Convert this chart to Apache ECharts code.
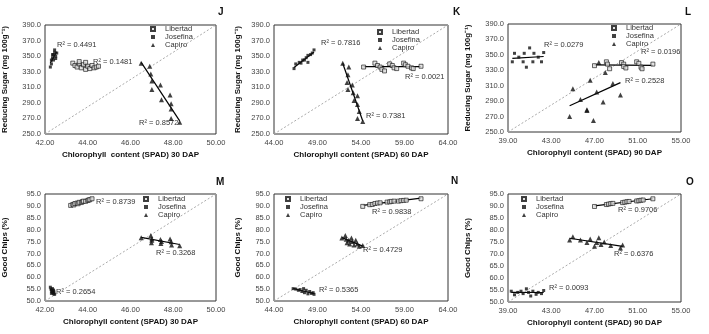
<!DOCTYPE html>
<html><head><meta charset="utf-8">
<script src="https://cdn.jsdelivr.net/npm/echarts@6/dist/echarts.min.js"></script>
<style>html,body{margin:0;padding:0;background:#fff}#c{width:709px;height:334px}</style>
</head><body><div id="c"></div>
<script>
// ---------- tick labels ----------
const xTicks30 = [42, 44, 46, 48, 50];
const xTicks60 = [44, 49, 54, 59, 64];
const xTicks90 = [39, 43, 47, 51, 55];
const ySugarTicks = [250, 270, 290, 310, 330, 350, 370, 390];
const yChipsTicks = [50, 55, 60, 65, 70, 75, 80, 85, 90, 95];
const seriesNames = ['Libertad', 'Josefina', 'Capiro'];
const panelLetters = ['J', 'K', 'L', 'M', 'N', 'O'];
const xNames = ['Chlorophyll  content (SPAD) 30 DAP', 'Chlorophyll content (SPAD) 60 DAP', 'Chlorophyll content (SPAD) 90 DAP',
                'Chlorophyll content (SPAD) 30 DAP', 'Chlorophyll content (SPAD) 60 DAP', 'Chlorophyll content (SPAD) 90 DAP'];
const yNames = ['Reducing Sugar (mg 100g\u207B\u00B9)', 'Good Chips (%)'];

// ---------- J: reducing sugar vs SPAD 30 DAP ----------
const J_lib_x = [43.3, 43.4, 43.5, 43.6, 43.6, 43.7, 43.8, 43.9, 43.9, 44.0, 44.1, 44.2, 44.3, 44.4, 44.5];
const J_lib_y = [341, 338, 336, 340, 343, 335, 339, 342, 333, 337, 334, 338, 335, 336, 337];
const J_jos_x = [42.25, 42.3, 42.3, 42.35, 42.35, 42.4, 42.4, 42.45, 42.45, 42.5, 42.5, 42.55];
const J_jos_y = [336, 340, 345, 348, 352, 345, 352, 355, 358, 350, 347, 354];
const J_cap_x = [46.5, 46.9, 46.95, 47.0, 47.0, 47.4, 47.45, 47.85, 47.9, 47.9, 47.9, 48.3];
const J_cap_y = [341, 337, 327, 318, 307, 313, 294, 300, 289, 282, 270, 265];
const J_r2 = ['0.1481', '0.4491', '0.8572'];

// ---------- K: reducing sugar vs SPAD 60 DAP ----------
const K_lib_x = [54.3, 55.6, 55.9, 56.2, 56.4, 56.7, 57.3, 57.6, 57.8, 58.1, 58.9, 59.1, 59.4, 59.8, 60.0, 60.9];
const K_lib_y = [336, 341, 338, 336, 333, 331, 340, 338, 335, 334, 341, 339, 337, 335, 334, 337];
const K_jos_x = [46.3, 46.5, 46.9, 47.1, 47.3, 47.5, 47.7, 47.9, 47.9, 48.2, 48.4, 48.6];
const K_jos_y = [334, 340, 342, 341, 345, 345, 348, 342, 351, 352, 354, 358];
const K_cap_x = [51.9, 52.6, 52.5, 52.4, 52.5, 53.0, 53.1, 53.2, 53.6, 53.6, 53.8, 53.6, 54.2];
const K_cap_y = [341, 336, 326, 316, 307, 313, 303, 293, 299, 288, 279, 270, 266];
const K_r2 = ['0.0021', '0.7816', '0.7381'];

// ---------- L: reducing sugar vs SPAD 90 DAP ----------
const L_lib_x = [47.0, 48.1, 48.2, 48.4, 49.5, 49.7, 49.7, 49.9, 50.9, 51.1, 51.3, 51.4, 52.4];
const L_lib_y = [336, 341, 338, 332, 340, 338, 335, 333, 341, 339, 334, 332, 338];
const L_jos_x = [39.4, 39.6, 40.0, 40.4, 40.5, 40.7, 41.0, 41.3, 41.4, 41.8, 42.1, 42.3];
const L_jos_y = [341, 352, 347, 341, 352, 334, 359, 341, 352, 347, 341, 353];
const L_cap_x = [44.7, 45.0, 45.7, 46.3, 46.3, 46.6, 46.9, 47.2, 47.4, 47.8, 48.0, 48.7, 49.4];
const L_cap_y = [270, 306, 292, 279, 278, 317, 265, 302, 340, 289, 327, 313, 298];
const L_r2 = ['0.0196', '0.0279', '0.2528'];

// ---------- M: good chips vs SPAD 30 DAP ----------
const M_lib_x = [43.2, 43.3, 43.35, 43.4, 43.5, 43.55, 43.6, 43.7, 43.75, 43.8, 43.9, 44.0, 44.05, 44.1, 44.2];
const M_lib_y = [90.2, 90.6, 90.4, 91.0, 91.2, 90.9, 91.5, 91.4, 91.8, 92.0, 91.9, 92.3, 92.5, 92.6, 93.0];
const M_jos_x = [42.25, 42.28, 42.3, 42.32, 42.35, 42.35, 42.38, 42.4, 42.42, 42.45, 42.3, 42.4];
const M_jos_y = [55.8, 55.0, 54.5, 54.0, 55.2, 53.5, 54.2, 53.0, 53.8, 52.8, 53.2, 54.6];
const M_cap_x = [46.5, 46.95, 47.0, 46.98, 47.0, 47.4, 47.42, 47.45, 47.85, 47.9, 47.92, 48.3];
const M_cap_y = [76.6, 77.5, 75.6, 74.5, 76.2, 75.9, 74.2, 75.0, 76.1, 74.9, 73.5, 73.2];
const M_r2 = ['0.8739', '0.2654', '0.3268'];

// ---------- N: good chips vs SPAD 60 DAP ----------
const N_lib_x = [54.2, 55.0, 55.3, 55.6, 55.9, 56.2, 57.0, 57.3, 57.5, 57.8, 58.3, 58.6, 58.9, 59.2, 60.9];
const N_lib_y = [89.8, 90.5, 90.6, 91.0, 91.2, 91.3, 91.6, 91.7, 91.9, 92.0, 92.0, 92.2, 92.3, 92.4, 93.0];
const N_jos_x = [46.2, 46.5, 46.8, 47.0, 47.2, 47.4, 47.5, 47.7, 47.9, 48.1, 48.3, 48.5, 48.6];
const N_jos_y = [55.2, 55.0, 54.5, 54.8, 54.0, 55.2, 53.5, 54.5, 53.0, 54.0, 53.2, 53.5, 52.8];
const N_cap_x = [51.8, 52.2, 52.3, 52.4, 52.6, 52.7, 52.9, 53.0, 53.2, 53.4, 53.6, 53.8, 54.2];
const N_cap_y = [76.5, 77.5, 76.0, 74.5, 75.5, 74.0, 76.5, 75.0, 73.5, 75.5, 74.0, 73.0, 73.3];
const N_r2 = ['0.9838', '0.5365', '0.4729'];

// ---------- O: good chips vs SPAD 90 DAP ----------
const O_lib_x = [47.0, 48.1, 48.3, 48.5, 48.7, 49.6, 49.8, 50.0, 50.2, 50.9, 51.1, 51.3, 51.5, 52.4];
const O_lib_y = [89.8, 90.6, 90.8, 91.0, 91.1, 91.4, 91.6, 91.8, 91.9, 92.1, 92.2, 92.4, 92.5, 93.0];
const O_jos_x = [39.3, 39.6, 39.9, 40.2, 40.4, 40.7, 40.9, 41.1, 41.3, 41.6, 41.8, 42.1, 42.3];
const O_jos_y = [54.5, 53.0, 54.0, 54.5, 53.5, 55.5, 54.0, 52.5, 54.5, 53.2, 54.0, 53.5, 54.8];
const O_cap_x = [44.7, 45.0, 45.7, 46.3, 46.6, 47.0, 47.2, 47.4, 47.6, 47.9, 48.5, 49.4, 49.6];
const O_cap_y = [75.8, 77.2, 75.8, 74.8, 76.3, 73.2, 74.8, 76.8, 74.0, 75.0, 73.5, 72.5, 73.8];
const O_r2 = ['0.9706', '0.0093', '0.6376'];

// ---------- layout (styles / positions) ----------
const FONT = 'Liberation Sans, Arial, sans-serif';
const grids = [
  {left: 44, top: 25, width: 172, height: 109},
  {left: 274, top: 25, width: 174, height: 109},
  {left: 508, top: 24, width: 173, height: 108},
  {left: 43, top: 194, width: 173, height: 107},
  {left: 274, top: 194, width: 174, height: 107},
  {left: 508, top: 194, width: 173, height: 108}
];
const yNameGaps = [36, 32, 36, 36, 32, 36];
const legendPos = [[150, 25], [377, 28], [611, 24], [143, 195], [285, 195], [521, 195]];
const letterPos = [[218, 7], [453, 7], [685, 7], [216, 177], [451, 176], [686, 177]];
// R² label pixel positions: order Libertad, Josefina, Capiro
const r2Pos = [
  [[93, 63], [57, 46], [139, 124]],
  [[405, 78], [321, 44], [366, 117]],
  [[641, 53], [544, 46], [625, 82]],
  [[96, 203], [56, 293], [156, 254]],
  [[372, 213], [319, 291], [363, 251]],
  [[618, 211], [549, 289], [614, 255]]
];

const panels = [
  {xt: xTicks30, yt: ySugarTicks, yn: 0, d: [[J_lib_x, J_lib_y], [J_jos_x, J_jos_y], [J_cap_x, J_cap_y]], r2: J_r2},
  {xt: xTicks60, yt: ySugarTicks, yn: 0, d: [[K_lib_x, K_lib_y], [K_jos_x, K_jos_y], [K_cap_x, K_cap_y]], r2: K_r2},
  {xt: xTicks90, yt: ySugarTicks, yn: 0, d: [[L_lib_x, L_lib_y], [L_jos_x, L_jos_y], [L_cap_x, L_cap_y]], r2: L_r2},
  {xt: xTicks30, yt: yChipsTicks, yn: 1, d: [[M_lib_x, M_lib_y], [M_jos_x, M_jos_y], [M_cap_x, M_cap_y]], r2: M_r2},
  {xt: xTicks60, yt: yChipsTicks, yn: 1, d: [[N_lib_x, N_lib_y], [N_jos_x, N_jos_y], [N_cap_x, N_cap_y]], r2: N_r2},
  {xt: xTicks90, yt: yChipsTicks, yn: 1, d: [[O_lib_x, O_lib_y], [O_jos_x, O_jos_y], [O_cap_x, O_cap_y]], r2: O_r2}
];

const symbolStyles = [
  {symbol: 'rect', symbolSize: 4, itemStyle: {color: '#ddd', borderColor: '#111', borderWidth: 0.8}},
  {symbol: 'rect', symbolSize: 3, itemStyle: {color: '#111'}},
  {symbol: 'triangle', symbolSize: 5, itemStyle: {color: '#111'}}
];

function fit(xs, ys) {
  const n = xs.length;
  let sx = 0, sy = 0, sxx = 0, sxy = 0;
  for (let i = 0; i < n; i++) { sx += xs[i]; sy += ys[i]; sxx += xs[i] * xs[i]; sxy += xs[i] * ys[i]; }
  const b = (n * sxy - sx * sy) / (n * sxx - sx * sx);
  const a = (sy - b * sx) / n;
  const x0 = Math.min(...xs), x1 = Math.max(...xs);
  return [[x0, a + b * x0], [x1, a + b * x1]];
}

const grid = [], xAxis = [], yAxis = [], series = [], legend = [], graphic = [];
panels.forEach((p, i) => {
  grid.push(Object.assign({show: true, borderColor: '#333', borderWidth: 1, backgroundColor: '#fff'}, grids[i]));
  const xmin = p.xt[0], xmax = p.xt[p.xt.length - 1];
  const ymin = p.yt[0], ymax = p.yt[p.yt.length - 1];
  xAxis.push({
    type: 'value', gridIndex: i, min: xmin, max: xmax,
    axisLine: {show: false}, axisTick: {show: false}, splitLine: {show: false},
    axisLabel: {customValues: p.xt, formatter: v => v.toFixed(2), fontSize: 7.5, color: '#444', fontFamily: FONT, margin: 5},
    name: xNames[i], nameLocation: 'middle', nameGap: 17,
    nameTextStyle: {fontSize: 8, fontWeight: 'bold', color: '#111', fontFamily: FONT}
  });
  yAxis.push({
    type: 'value', gridIndex: i, min: ymin, max: ymax,
    axisLine: {show: false}, axisTick: {show: false}, splitLine: {show: false},
    axisLabel: {customValues: p.yt, formatter: v => v.toFixed(1), fontSize: 7.5, color: '#444', fontFamily: FONT, margin: 4},
    name: yNames[p.yn], nameLocation: 'middle', nameGap: yNameGaps[i], nameRotate: 90,
    nameTextStyle: {fontSize: 8, fontWeight: 'bold', color: '#111', fontFamily: FONT}
  });
  // 1:1 style diagonal reference
  series.push({
    type: 'line', xAxisIndex: i, yAxisIndex: i, silent: true, symbol: 'none',
    data: [[xmin, ymin], [xmax, ymax]],
    lineStyle: {color: '#aaa', width: 1, type: [2, 2]}, z: 1
  });
  p.d.forEach((g, k) => {
    series.push(Object.assign({
      type: 'scatter', name: seriesNames[k], xAxisIndex: i, yAxisIndex: i,
      data: g[0].map((x, j) => [x, g[1][j]]), z: 3
    }, symbolStyles[k]));
    series.push({
      type: 'line', xAxisIndex: i, yAxisIndex: i, silent: true, symbol: 'none',
      data: fit(g[0], g[1]), lineStyle: {color: '#000', width: 1.2}, z: 2
    });
    graphic.push({
      type: 'text', left: r2Pos[i][k][0], top: r2Pos[i][k][1] - 5,
      style: {text: 'R\u00B2 = ' + p.r2[k], fontSize: 7.5, fill: '#333', fontFamily: FONT}
    });
  });
  legend.push({
    left: legendPos[i][0], top: legendPos[i][1], orient: 'vertical', itemGap: 0, padding: 0,
    itemWidth: 4, itemHeight: 4, data: seriesNames, selectedMode: false,
    textStyle: {fontSize: 7.5, color: '#333', fontFamily: FONT, lineHeight: 8, padding: [0, 0, 0, 5]}
  });
  graphic.push({
    type: 'text', left: letterPos[i][0], top: letterPos[i][1],
    style: {text: panelLetters[i], fontSize: 10, fontWeight: 'bold', fill: '#111', fontFamily: FONT}
  });
});

const chart = echarts.init(document.getElementById('c'), null, {renderer: 'canvas'});
chart.setOption({animation: false, backgroundColor: '#fff', grid, xAxis, yAxis, series, legend, graphic});
</script>
</body></html>
